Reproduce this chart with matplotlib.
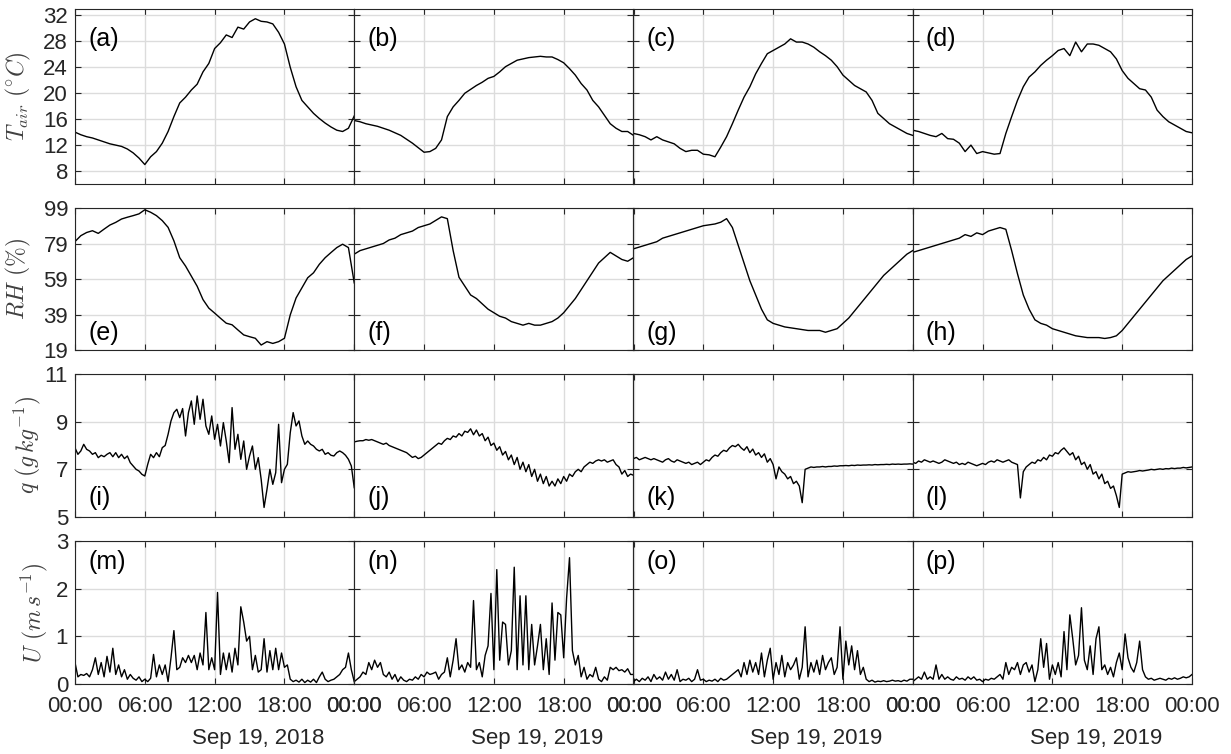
import numpy as np
import matplotlib
matplotlib.use('Agg')
import matplotlib.pyplot as plt
import matplotlib.dates as mdates

plt.rcParams['font.family'] = ['Liberation Sans', 'DejaVu Sans']
plt.rcParams['mathtext.fontset'] = 'cm'

days = ['2018-09-19', '2019-09-19', '2019-09-19', '2019-09-19']
date_labels = ['Sep 19, 2018', 'Sep 19, 2019', 'Sep 19, 2019', 'Sep 19, 2019']

# air temperature (deg C), every 30 min
t_a = [14.0, 13.6, 13.3, 13.1, 12.8, 12.5, 12.2, 12.0, 11.8, 11.4, 10.8, 10.0, 9.0,
       10.2, 11.0, 12.3, 14.1, 16.4, 18.5, 19.4, 20.5, 21.4, 23.3, 24.6, 26.9, 27.8,
       29.0, 28.6, 30.2, 29.9, 31.0, 31.5, 31.1, 31.0, 30.7, 29.4, 27.6, 24.0, 21.0,
       18.9, 17.9, 16.9, 16.1, 15.4, 14.8, 14.3, 14.1, 14.6, 16.5]
t_b = [15.8, 15.6, 15.3, 15.1, 14.9, 14.6, 14.3, 13.9, 13.5, 12.9, 12.3, 11.6, 10.9,
       11.0, 11.5, 12.8, 16.4, 17.9, 18.9, 20.0, 20.6, 21.2, 21.7, 22.3, 22.6, 23.3,
       24.1, 24.6, 25.1, 25.3, 25.5, 25.6, 25.7, 25.6, 25.6, 25.2, 24.7, 23.8, 22.8,
       21.5, 20.5, 18.9, 17.9, 16.6, 15.3, 14.6, 14.1, 14.1, 13.5]
t_c = [13.8, 13.6, 13.3, 12.8, 13.3, 12.8, 12.5, 12.2, 11.5, 11.0, 11.2, 11.2, 10.6,
       10.5, 10.2, 11.7, 13.3, 15.3, 17.4, 19.4, 21.0, 23.0, 24.6, 26.1, 26.6, 27.1,
       27.6, 28.4, 27.9, 27.9, 27.6, 27.1, 26.4, 25.8, 25.1, 24.1, 22.8, 22.0, 21.2,
       20.7, 20.2, 18.9, 16.9, 16.1, 15.3, 14.8, 14.3, 13.8, 13.5]
t_d = [14.3, 14.1, 13.8, 13.5, 13.3, 13.8, 13.0, 12.9, 12.3, 11.0, 12.0, 10.7, 11.0,
       10.8, 10.6, 10.7, 13.8, 16.4, 18.9, 21.0, 22.5, 23.3, 24.3, 25.1, 25.8, 26.6,
       26.9, 25.8, 27.9, 26.4, 27.6, 27.6, 27.4, 26.9, 26.4, 25.3, 23.5, 22.3, 21.5,
       20.7, 20.5, 19.4, 17.4, 16.4, 15.6, 15.1, 14.6, 14.1, 13.9]

# relative humidity (%), every 30 min
rh_e = [80.1, 83.4, 85.2, 86.2, 84.7, 87.1, 89.4, 90.9, 92.8, 93.8, 94.7, 95.7, 98.0,
        96.6, 94.7, 91.9, 88.1, 80.5, 71.0, 66.3, 60.6, 54.9, 47.4, 42.6, 39.8, 36.9,
        34.1, 33.2, 30.3, 27.5, 26.5, 25.6, 21.8, 23.7, 22.7, 23.7, 25.6, 38.8, 48.3,
        54.0, 59.7, 62.5, 67.3, 71.0, 73.9, 76.7, 78.6, 76.7, 56.8]
rh_f = [73, 75, 76, 77, 78, 79, 81, 82, 84, 85, 86, 88, 89, 90, 92, 94, 93, 75, 60,
        55, 50, 48, 45, 42, 40, 38, 37, 35, 34, 33, 34, 33, 33, 34, 35, 37, 40, 44, 48,
        53, 58, 63, 68, 71, 74, 72, 70, 69, 71]
rh_g = [76, 77, 78, 79, 80, 82, 83, 84, 85, 86, 87, 88, 89, 89.5, 90, 91, 93, 88, 78,
        68, 58, 50, 42, 36, 34, 33, 32, 31.5, 31, 30.5, 30, 30, 30, 29, 30, 31, 34, 37,
        41, 45, 49, 53, 57, 61, 64, 67, 70, 73, 75]
rh_h = [74, 75, 76, 77, 78, 79, 80, 81, 82, 84, 83, 85, 84, 86, 87, 88, 87, 75, 62,
        50, 42, 36, 34, 33, 31, 30, 29, 28, 27, 26.5, 26, 26, 26, 25.5, 26, 27, 30, 34,
        38, 42, 46, 50, 54, 58, 61, 64, 67, 70, 72]

# specific humidity (g/kg), every 15 min
q_i = [7.90, 7.63, 7.77, 8.05, 7.84, 7.77, 7.63, 7.70, 7.49, 7.59, 7.53, 7.63,
       7.70, 7.53, 7.70, 7.49, 7.63, 7.45, 7.56, 7.28, 7.14, 7.00, 6.93, 6.79,
       6.72, 7.21, 7.63, 7.49, 7.70, 7.53, 7.91, 8.00, 8.47, 9.03, 9.38, 9.52,
       9.17, 9.55, 8.40, 9.38, 9.87, 8.89, 10.08, 9.10, 9.94, 8.82, 8.47, 9.24,
       8.26, 8.89, 7.98, 8.96, 8.19, 7.28, 9.59, 7.84, 8.47, 7.42, 8.19, 7.00,
       7.56, 7.98, 7.00, 7.49, 6.58, 5.40, 6.16, 7.00, 6.37, 6.86, 8.89, 6.44,
       7.00, 7.21, 8.54, 9.38, 8.82, 9.03, 8.40, 8.05, 8.19, 8.05, 7.98, 7.84,
       7.77, 7.84, 7.63, 7.70, 7.59, 7.56, 7.70, 7.77, 7.70, 7.59, 7.42, 7.14, 6.23]
q_j = [8.15, 8.18, 8.20, 8.20, 8.25, 8.22, 8.25, 8.20, 8.15, 8.10, 8.05, 8.10,
       8.00, 7.95, 7.90, 7.85, 7.80, 7.75, 7.70, 7.60, 7.50, 7.55, 7.45, 7.50,
       7.60, 7.70, 7.80, 7.90, 8.00, 8.10, 8.05, 8.20, 8.30, 8.25, 8.40, 8.35,
       8.50, 8.40, 8.60, 8.55, 8.70, 8.45, 8.65, 8.40, 8.50, 8.20, 8.35, 8.00,
       8.10, 7.80, 7.95, 7.60, 7.75, 7.40, 7.60, 7.20, 7.50, 7.00, 7.30, 6.90,
       7.20, 6.70, 7.00, 6.50, 6.80, 6.40, 6.70, 6.30, 6.50, 6.30, 6.60, 6.40,
       6.70, 6.50, 6.80, 6.70, 6.90, 7.00, 6.90, 7.10, 7.20, 7.30, 7.25, 7.35,
       7.40, 7.35, 7.40, 7.30, 7.35, 7.40, 7.20, 7.10, 6.80, 6.95, 6.70, 6.80, 6.75]
q_k = [7.45, 7.50, 7.40, 7.45, 7.50, 7.45, 7.40, 7.45, 7.40, 7.35, 7.30, 7.40,
       7.45, 7.35, 7.30, 7.40, 7.35, 7.30, 7.25, 7.30, 7.20, 7.25, 7.30, 7.20,
       7.30, 7.40, 7.35, 7.50, 7.60, 7.55, 7.70, 7.80, 7.75, 7.90, 8.00, 7.95,
       8.05, 7.90, 7.80, 7.95, 7.70, 7.85, 7.60, 7.70, 7.50, 7.65, 7.30, 7.45,
       7.20, 6.60, 7.10, 6.90, 6.80, 6.60, 6.70, 6.40, 6.50, 6.30, 5.60, 7.00,
       7.05, 7.10, 7.08, 7.10, 7.10, 7.12, 7.10, 7.12, 7.12, 7.14, 7.13, 7.15,
       7.15, 7.16, 7.15, 7.17, 7.16, 7.18, 7.17, 7.18, 7.18, 7.19, 7.18, 7.20,
       7.19, 7.20, 7.20, 7.21, 7.20, 7.22, 7.21, 7.22, 7.21, 7.22, 7.22, 7.23, 7.22]
q_l = [7.30, 7.25, 7.35, 7.30, 7.40, 7.35, 7.30, 7.35, 7.30, 7.25, 7.30, 7.40,
       7.35, 7.30, 7.25, 7.30, 7.20, 7.25, 7.20, 7.30, 7.25, 7.20, 7.15, 7.20,
       7.25, 7.20, 7.30, 7.35, 7.30, 7.40, 7.35, 7.30, 7.35, 7.40, 7.30, 7.25,
       7.20, 5.80, 6.90, 7.10, 7.20, 7.30, 7.25, 7.40, 7.35, 7.50, 7.40, 7.60,
       7.55, 7.70, 7.65, 7.80, 7.90, 7.75, 7.60, 7.70, 7.40, 7.55, 7.20, 7.30,
       7.00, 7.20, 6.80, 6.90, 6.60, 6.80, 6.40, 6.50, 6.20, 6.30, 5.90, 5.40,
       6.80, 6.85, 6.90, 6.88, 6.90, 6.92, 6.95, 6.93, 6.95, 6.97, 7.00, 6.98,
       7.00, 7.02, 7.00, 7.03, 7.02, 7.05, 7.03, 7.05, 7.05, 7.08, 7.06, 7.08, 7.10]

# wind speed (m/s), every 15 min
u_m = [0.45, 0.15, 0.20, 0.18, 0.22, 0.15, 0.30, 0.55, 0.20, 0.45, 0.15, 0.58,
       0.25, 0.75, 0.20, 0.40, 0.15, 0.30, 0.10, 0.20, 0.12, 0.08, 0.15, 0.05,
       0.10, 0.05, 0.12, 0.62, 0.15, 0.40, 0.20, 0.40, 0.05, 0.55, 1.12, 0.30,
       0.35, 0.55, 0.45, 0.60, 0.45, 0.60, 0.30, 0.65, 0.40, 1.50, 0.30, 0.55,
       0.30, 1.92, 0.20, 0.65, 0.30, 0.65, 0.25, 0.75, 0.40, 1.62, 1.30, 0.90,
       1.00, 0.30, 0.60, 0.25, 0.30, 0.95, 0.25, 0.70, 0.30, 0.75, 0.30, 0.65,
       0.35, 0.40, 0.10, 0.05, 0.08, 0.04, 0.10, 0.03, 0.08, 0.04, 0.10, 0.03,
       0.15, 0.25, 0.10, 0.05, 0.08, 0.10, 0.15, 0.20, 0.30, 0.35, 0.65, 0.30, 0.05]
u_n = [0.05, 0.10, 0.15, 0.25, 0.20, 0.45, 0.30, 0.50, 0.35, 0.45, 0.20, 0.15,
       0.25, 0.10, 0.20, 0.05, 0.15, 0.08, 0.05, 0.10, 0.08, 0.15, 0.10, 0.20,
       0.15, 0.25, 0.20, 0.22, 0.25, 0.10, 0.20, 0.25, 0.55, 0.15, 0.50, 0.95,
       0.30, 0.40, 0.25, 0.45, 0.35, 1.75, 0.30, 0.45, 0.15, 0.60, 0.80, 1.90,
       0.30, 2.40, 0.50, 1.30, 1.25, 0.40, 0.70, 2.45, 0.30, 1.85, 0.40, 1.85,
       0.30, 1.25, 0.40, 0.80, 1.25, 0.30, 0.95, 0.20, 1.70, 0.50, 1.50, 1.45,
       0.55, 1.80, 2.65, 0.70, 0.40, 0.60, 0.15, 0.35, 0.10, 0.20, 0.15, 0.35,
       0.10, 0.05, 0.15, 0.08, 0.35, 0.30, 0.35, 0.28, 0.30, 0.25, 0.32, 0.20, 0.20]
u_o = [0.05, 0.10, 0.05, 0.12, 0.08, 0.15, 0.05, 0.20, 0.10, 0.15, 0.08, 0.25,
       0.10, 0.20, 0.08, 0.30, 0.05, 0.10, 0.08, 0.12, 0.05, 0.10, 0.30, 0.08,
       0.10, 0.05, 0.08, 0.06, 0.10, 0.05, 0.12, 0.08, 0.10, 0.15, 0.20, 0.25,
       0.30, 0.15, 0.45, 0.20, 0.50, 0.25, 0.45, 0.20, 0.65, 0.15, 0.50, 0.75,
       0.10, 0.45, 0.20, 0.60, 0.15, 0.45, 0.30, 0.40, 0.55, 0.10, 0.35, 1.20,
       0.15, 0.45, 0.25, 0.50, 0.20, 0.60, 0.30, 0.45, 0.55, 0.20, 0.35, 1.20,
       0.10, 0.90, 0.40, 0.80, 0.30, 0.70, 0.20, 0.35, 0.10, 0.05, 0.08, 0.04,
       0.06, 0.05, 0.07, 0.05, 0.06, 0.08, 0.06, 0.07, 0.05, 0.08, 0.06, 0.10, 0.10]
u_p = [0.05, 0.10, 0.15, 0.10, 0.25, 0.10, 0.15, 0.10, 0.40, 0.10, 0.20, 0.10,
       0.15, 0.10, 0.08, 0.15, 0.10, 0.12, 0.08, 0.15, 0.10, 0.15, 0.08, 0.10,
       0.05, 0.10, 0.08, 0.12, 0.10, 0.15, 0.20, 0.10, 0.45, 0.20, 0.35, 0.30,
       0.45, 0.20, 0.40, 0.45, 0.25, 0.40, 0.05, 0.30, 0.95, 0.35, 0.85, 0.10,
       0.40, 0.20, 0.45, 0.15, 1.10, 0.30, 1.45, 0.95, 0.40, 0.60, 1.60, 0.50,
       0.30, 0.80, 0.20, 0.95, 1.20, 0.30, 0.40, 0.20, 0.35, 0.15, 0.45, 0.65,
       0.30, 1.05, 0.55, 0.35, 0.25, 0.45, 0.90, 0.30, 0.15, 0.10, 0.12, 0.08,
       0.10, 0.12, 0.10, 0.08, 0.12, 0.10, 0.13, 0.10, 0.12, 0.15, 0.13, 0.15, 0.20]

series = [[t_a, t_b, t_c, t_d],
          [rh_e, rh_f, rh_g, rh_h],
          [q_i, q_j, q_k, q_l],
          [u_m, u_n, u_o, u_p]]
tags = [['(a)', '(b)', '(c)', '(d)'],
        ['(e)', '(f)', '(g)', '(h)'],
        ['(i)', '(j)', '(k)', '(l)'],
        ['(m)', '(n)', '(o)', '(p)']]
ylabels = [r'$T_{air}\ (^{\circ}C)$', r'$RH\ (\%)$',
           r'$q\ (g\,kg^{-1})$', r'$U\ (m\,s^{-1})$']
ylims = [(6, 33), (19, 99), (5, 11), (0, 3)]
yticks = [[8, 12, 16, 20, 24, 28, 32], [19, 39, 59, 79, 99], [5, 7, 9, 11], [0, 1, 2, 3]]

# layout in pixels (figure is 1231 x 754)
W, H = 1231., 754.
col_left = [75, 354.25, 633.5, 912.75]
col_w = 279.25
rows = [(9, 184), (208, 350), (374, 517), (541, 684)]
tag_y = [0.83, 0.12, 0.135, 0.85]
label_x = [33, 33, 43, 50]

dark = '#262626'
fig = plt.figure(figsize=(12.31, 7.54), dpi=100)

for r in range(4):
    top, bot = rows[r]
    for c in range(4):
        ax = fig.add_axes([col_left[c]/W, 1 - bot/H, col_w/W, (bot - top)/H])
        y = series[r][c]
        n = len(y)
        t0 = np.datetime64(days[c] + 'T00:00')
        t = t0 + np.arange(n) * np.timedelta64(24*60//(n - 1), 'm')
        ax.plot(t, y, color='k', lw=1.0)
        ax.set_xlim(t0, t0 + np.timedelta64(1, 'D'))
        ax.set_ylim(*ylims[r])
        ax.set_yticks(yticks[r])
        ax.xaxis.set_major_locator(mdates.HourLocator(byhour=[0, 6, 12, 18]))
        ax.xaxis.set_major_formatter(mdates.DateFormatter('%H:%M'))
        ax.grid(True, color='#dcdcdc', lw=1.0)
        ax.tick_params(direction='in', top=True, right=True, length=4, width=0.8,
                       colors=dark, labelsize=16,
                       labelleft=(c == 0), labelbottom=(r == 3))
        ax.tick_params(axis='y', pad=5)
        ax.tick_params(axis='x', pad=9)
        for s in ax.spines.values():
            s.set_color(dark)
            s.set_linewidth(0.8)
        ax.text(13/col_w, tag_y[r], tags[r][c], transform=ax.transAxes,
                fontsize=18, ha='left', va='center', color='k')
        if c == 0:
            ax.set_ylabel(ylabels[r], fontsize=17, color='#404040')
            ax.yaxis.set_label_coords((label_x[r] - 75)/col_w, 0.5)
        if r == 3:
            ax.text(0.655, -0.378, date_labels[c], transform=ax.transAxes,
                    ha='center', va='center', fontsize=16, color=dark)

plt.savefig('out.png', dpi=100)
plt.close()
